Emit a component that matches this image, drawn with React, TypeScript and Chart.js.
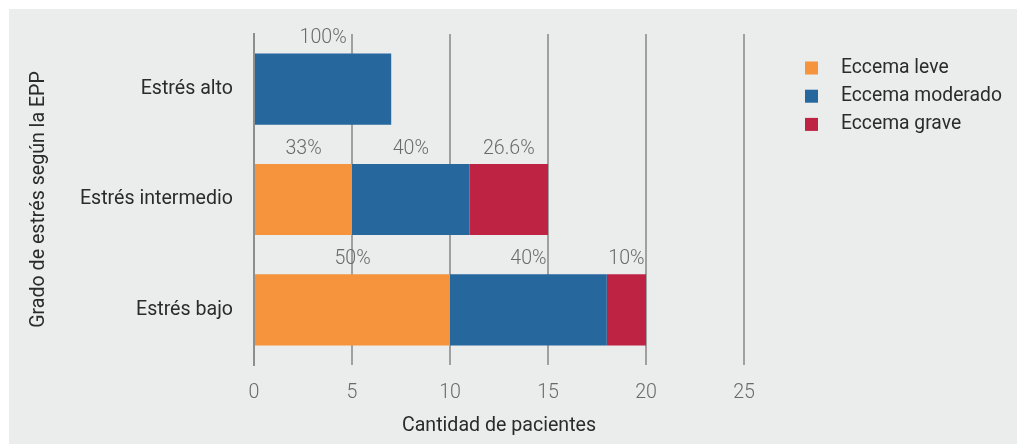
import React, { useEffect, useRef } from "react";
import { Chart, registerables } from "chart.js";

Chart.register(...registerables);

const categories = ["Estrés alto", "Estrés intermedio", "Estrés bajo"];
const seriesNames = ["Eccema leve", "Eccema moderado", "Eccema grave"];
const leveValues = [0, 5, 10];
const moderadoValues = [7, 6, 8];
const graveValues = [0, 4, 2];
const leveLabels = ["", "33%", "50%"];
const moderadoLabels = ["100%", "40%", "40%"];
const graveLabels = ["", "26.6%", "10%"];
const xTicks = [0, 5, 10, 15, 20, 25];

const COLORS = ["#F5943D", "#26679E", "#BE2344"];
const FONT = "Roboto, 'Noto Sans', sans-serif";
const FS = 19.6;

const pctLabels = [leveLabels, moderadoLabels, graveLabels];

const segmentLabelPlugin = {
  id: "segmentLabels",
  afterDatasetsDraw(chart: any) {
    const ctx = chart.ctx;
    ctx.save();
    ctx.font = `300 ${FS}px ${FONT}`;
    ctx.fillStyle = "#6a6a6a";
    ctx.textAlign = "center";
    ctx.textBaseline = "middle";
    chart.data.datasets.forEach((ds: any, di: number) => {
      const meta = chart.getDatasetMeta(di);
      meta.data.forEach((bar: any, i: number) => {
        const txt = pctLabels[di][i];
        if (!txt || !ds.data[i]) return;
        const cx = (bar.x + bar.base) / 2;
        const top = bar.y - bar.height / 2;
        ctx.fillText(txt, cx, top - 15);
      });
    });
    ctx.restore();
  },
};

const customLegendPlugin = {
  id: "customLegend",
  afterDraw(chart: any) {
    const ctx = chart.ctx;
    const area = chart.chartArea;
    ctx.save();
    ctx.font = `${FS - 0.3}px ${FONT}`;
    ctx.textAlign = "left";
    ctx.textBaseline = "middle";
    const boxX = area.right + 61;
    const textX = area.right + 97;
    const startY = area.top + 34;
    const step = 28.2;
    chart.data.datasets.forEach((ds: any, i: number) => {
      const y = startY + i * step;
      ctx.fillStyle = ds.backgroundColor;
      ctx.fillRect(boxX, y - 6.5, 13, 13);
      ctx.fillStyle = "#2b2b2b";
      ctx.fillText(ds.label, textX, y);
    });
    ctx.restore();
  },
};

export default function App() {
  const canvasRef = useRef<HTMLCanvasElement | null>(null);

  useEffect(() => {
    if (!canvasRef.current) return;
    const values = [leveValues, moderadoValues, graveValues];
    const chart = new Chart(canvasRef.current, {
      type: "bar",
      data: {
        labels: categories,
        datasets: seriesNames.map((name, i) => ({
          label: name,
          data: values[i],
          backgroundColor: COLORS[i],
          borderWidth: 0,
          barPercentage: 0.645,
          categoryPercentage: 1,
        })),
      },
      options: {
        indexAxis: "y",
        animation: false,
        responsive: true,
        maintainAspectRatio: false,
        layout: { padding: { top: 25, right: 281, left: 0, bottom: 0 } },
        plugins: {
          legend: { display: false },
          tooltip: { enabled: false },
        },
        scales: {
          x: {
            stacked: true,
            min: 0,
            max: 25,
            afterBuildTicks: (scale: any) => {
              scale.ticks = xTicks.map((v) => ({ value: v }));
            },
            afterFit: (scale: any) => {
              scale.height = 79;
              scale.paddingLeft = 0;
              scale.paddingRight = 0;
            },
            grid: {
              display: true,
              color: "#a0a0a0",
              lineWidth: 2,
              drawTicks: false,
            },
            border: { display: false },
            ticks: {
              padding: 16,
              color: "#6a6a6a",
              font: { family: FONT, size: FS, weight: "300" as any },
            },
            title: {
              display: true,
              text: "Cantidad de pacientes",
              color: "#2b2b2b",
              font: { family: FONT, size: FS },
              padding: { top: 0, bottom: 6 },
            },
          },
          y: {
            stacked: true,
            afterFit: (scale: any) => {
              scale.width = 245;
              scale.paddingTop = 0;
              scale.paddingBottom = 0;
            },
            grid: { display: false, drawTicks: false },
            border: { display: true, color: "#8e8e8e", width: 2 },
            ticks: {
              padding: 21,
              color: "#2b2b2b",
              font: { family: FONT, size: FS },
            },
            title: {
              display: true,
              text: "Grado de estrés según la EPP",
              color: "#2b2b2b",
              font: { family: FONT, size: FS },
              padding: { top: 18, bottom: 0 },
            },
          },
        },
      },
      plugins: [segmentLabelPlugin, customLegendPlugin],
    });
    return () => chart.destroy();
  }, []);

  return (
    <div
      style={{
        marginLeft: 1,
        marginTop: 1,
        width: 1016,
        height: 435,
        background: "#EBECEC",
        position: "relative",
      }}
    >
      <canvas ref={canvasRef} />
    </div>
  );
}
